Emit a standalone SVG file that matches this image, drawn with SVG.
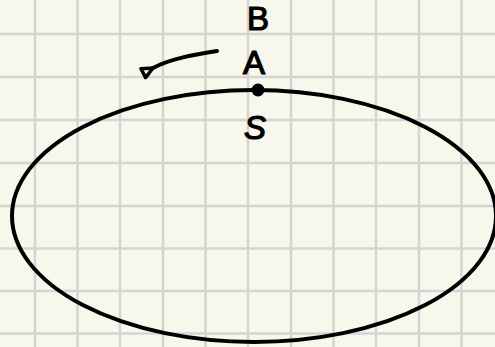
<svg xmlns="http://www.w3.org/2000/svg" width="495" height="347" viewBox="0 0 495 347">
<style>
.grid{stroke:#d4d4d4;stroke-width:2.5}
.ink{fill:none;stroke:#000;stroke-width:4;stroke-linecap:round;stroke-linejoin:round}
.lbl{font-family:"Liberation Sans",Arial,sans-serif;font-size:33px;fill:#000;stroke:#000;stroke-width:1.2;text-anchor:middle}
</style>
<defs>
<marker id="ah" markerWidth="16" markerHeight="16" refX="2" refY="8" orient="auto" markerUnits="userSpaceOnUse" viewBox="0 0 16 16">
<path d="M13,3 L2,8 L13,13 Z" fill="none" stroke="#000" stroke-width="3.5" stroke-linejoin="round"/>
</marker>
</defs>
<rect width="495" height="347" fill="#f8f7ec"/>
<g id="grid" class="grid">
<line x1="35" y1="0" x2="35" y2="347"/>
<line x1="77.5" y1="0" x2="77.5" y2="347"/>
<line x1="120" y1="0" x2="120" y2="347"/>
<line x1="163" y1="0" x2="163" y2="347"/>
<line x1="205.5" y1="0" x2="205.5" y2="347"/>
<line x1="248" y1="0" x2="248" y2="347"/>
<line x1="291" y1="0" x2="291" y2="347"/>
<line x1="333.5" y1="0" x2="333.5" y2="347"/>
<line x1="376" y1="0" x2="376" y2="347"/>
<line x1="419" y1="0" x2="419" y2="347"/>
<line x1="461.5" y1="0" x2="461.5" y2="347"/>
<line x1="0" y1="34" x2="495" y2="34"/>
<line x1="0" y1="77" x2="495" y2="77"/>
<line x1="0" y1="120" x2="495" y2="120"/>
<line x1="0" y1="163" x2="495" y2="163"/>
<line x1="0" y1="206" x2="495" y2="206"/>
<line x1="0" y1="248.5" x2="495" y2="248.5"/>
<line x1="0" y1="291" x2="495" y2="291"/>
<line x1="0" y1="333.5" x2="495" y2="333.5"/>
</g>
<g id="orbit">
<ellipse class="ink" cx="254" cy="216" rx="242" ry="126"/>
</g>
<g id="pointA">
<circle cx="258" cy="90" r="6.5" fill="#000"/>
</g>
<g id="labelB"><text class="lbl" x="258" y="30">B</text></g>
<g id="labelA"><text class="lbl" x="254" y="74">A</text></g>
<g id="labelS"><text class="lbl" x="255" y="139" font-style="italic">S</text></g>
<g id="connectors">
<path class="ink" d="M217,51 C192,55 170,59 153,68" marker-end="url(#ah)"/>
</g>
</svg>
